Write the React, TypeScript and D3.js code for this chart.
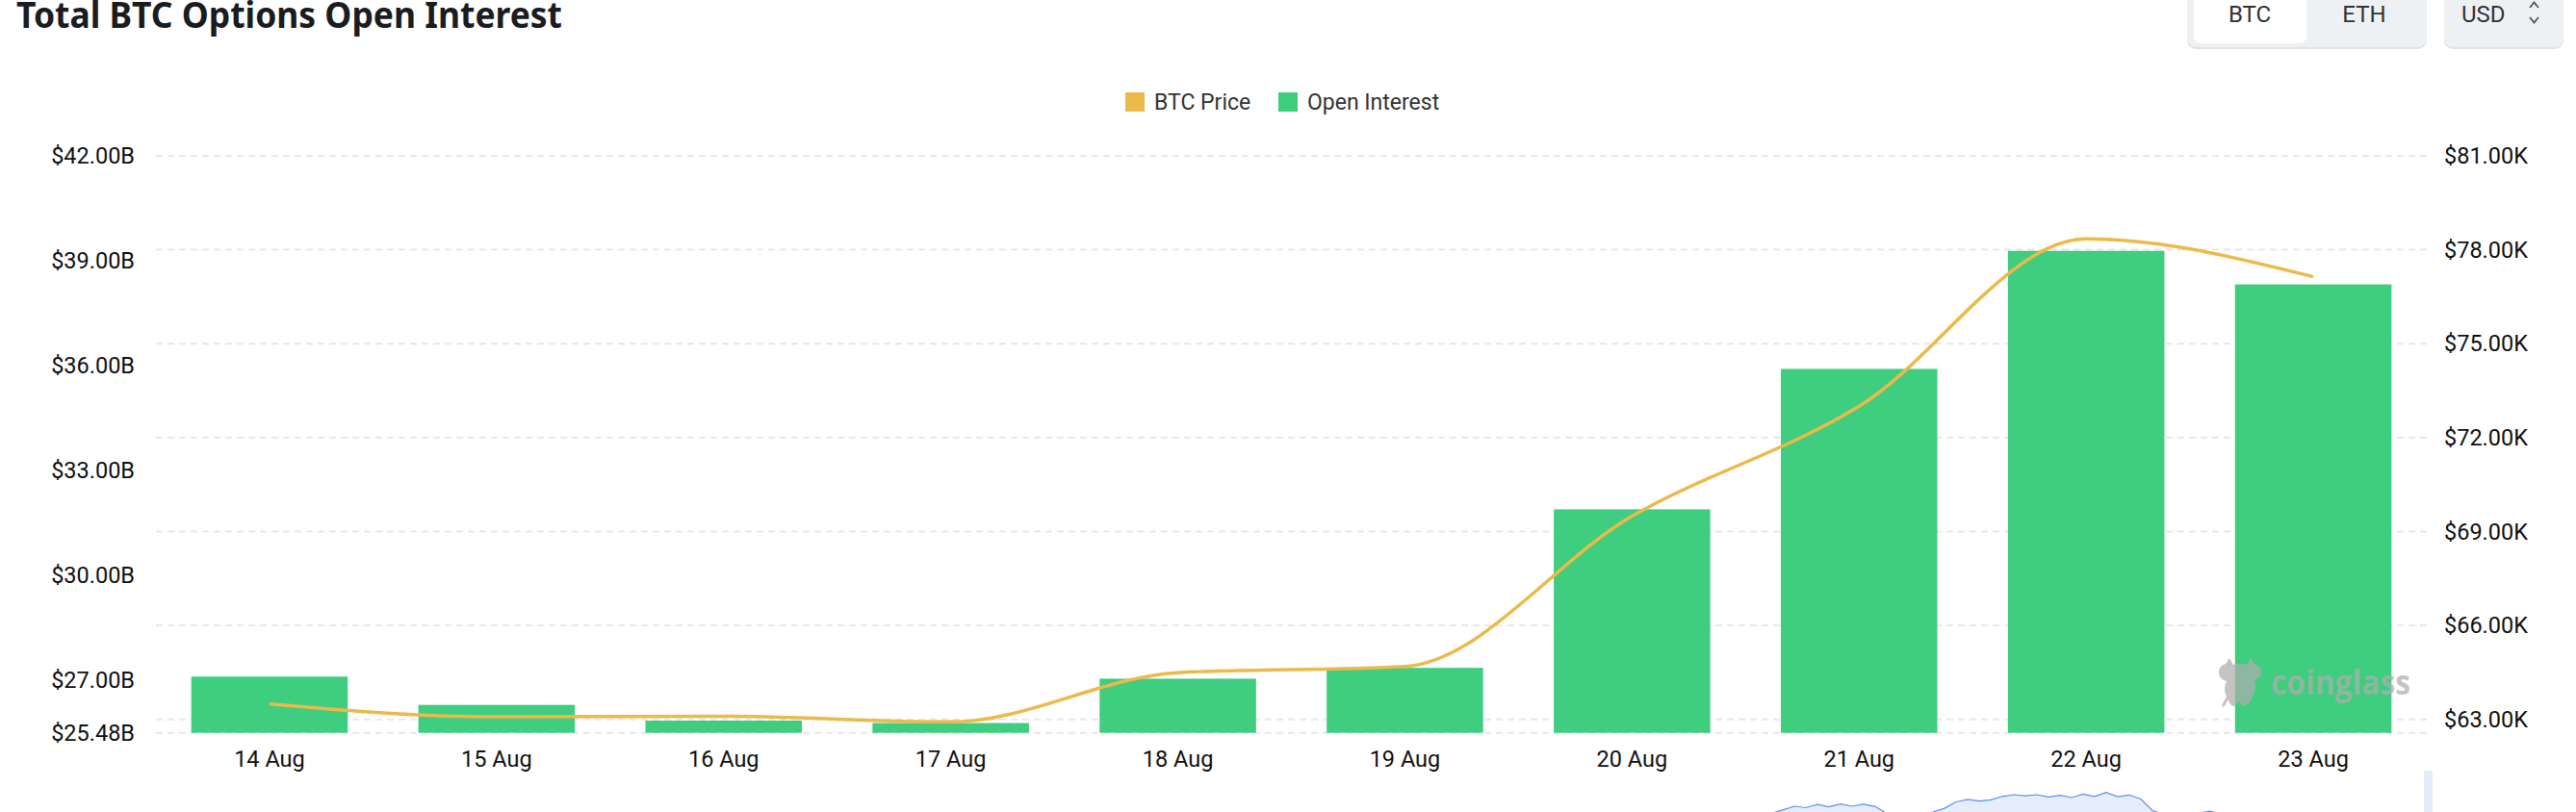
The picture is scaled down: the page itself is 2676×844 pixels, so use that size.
import React, { useEffect, useRef } from "react";
import * as d3 from "d3";

// categories + series
const dates = ["14 Aug", "15 Aug", "16 Aug", "17 Aug", "18 Aug", "19 Aug", "20 Aug", "21 Aug", "22 Aug", "23 Aug"];
const openInterest = [27.09, 26.28, 25.83, 25.76, 27.03, 27.34, 31.88, 35.9, 39.28, 38.32]; // $B
const btcPrice = [63.49, 63.08, 63.1, 62.92, 64.49, 64.69, 69.49, 73.0, 78.35, 77.14]; // $K

const leftTicks = [25.48, 27, 30, 33, 36, 39, 42];
const rightTicks = [63, 66, 69, 72, 75, 78, 81];

// overview strip under the chart (only its top is visible)
const overview = [
  1.5, 2.7, 4.0, 3.5, 4.6, 3.8, 4.8, 4.0, 4.7, 3.9, 1.5, 1.0, 1.2, 1.4, 2.0, 3.3, 5.5, 6.4, 5.8, 6.2,
  7.4, 8.0, 7.6, 8.0, 7.2, 7.8, 7.0, 8.2, 7.4, 8.8, 7.3, 7.9, 6.5, 2.5, 1.2, 1.0, 1.3, 1.6, 2.3, 1.2,
];

const W = 2676;
const H = 844;
const ORANGE = "#ecb94b";
const GREEN = "#3fcd7f";
const FONT = "Roboto, sans-serif";

const App: React.FC = () => {
  const svgRef = useRef<SVGSVGElement>(null);

  useEffect(() => {
    if (!svgRef.current) return;
    const svg = d3.select(svgRef.current);
    svg.selectAll("*").remove();

    const left = 162;
    const right = 2521;
    const top = 162;
    const bottom = 761.7;

    const x = d3
      .scaleBand<string>()
      .domain(dates)
      .range([left, right])
      .paddingInner(0.311)
      .paddingOuter(0.1555);
    const yL = d3.scaleLinear().domain([25.48, 42]).range([bottom, top]);
    const yR = d3.scaleLinear().domain([62.57, 81]).range([bottom, top]);

    // title
    svg
      .append("text")
      .attr("x", 17)
      .attr("y", 29)
      .attr("textLength", 567)
      .attr("lengthAdjust", "spacingAndGlyphs")
      .style("font-family", "'Noto Sans', sans-serif")
      .style("font-weight", 700)
      .style("font-size", "38px")
      .style("fill", "#1a1c1f")
      .text("Total BTC Options Open Interest");

    // BTC / ETH toggle
    const tg = svg.append("g");
    tg.append("rect")
      .attr("x", 2272).attr("y", -12).attr("width", 249).attr("height", 63).attr("rx", 9)
      .style("fill", "#dfe3e8");
    tg.append("rect")
      .attr("x", 2272).attr("y", -12).attr("width", 249).attr("height", 61).attr("rx", 9)
      .style("fill", "#eef1f4");
    tg.append("rect")
      .attr("x", 2279).attr("y", -12).attr("width", 117).attr("height", 57).attr("rx", 7)
      .style("fill", "#ffffff");
    tg.append("text").attr("x", 2337).attr("y", 23).attr("text-anchor", "middle")
      .style("font-family", FONT).style("font-size", "24px").style("fill", "#333")
      .text("BTC");
    tg.append("text").attr("x", 2456).attr("y", 23).attr("text-anchor", "middle")
      .style("font-family", FONT).style("font-size", "24px").style("fill", "#333")
      .text("ETH");

    // USD select
    tg.append("rect")
      .attr("x", 2539).attr("y", -12).attr("width", 124).attr("height", 63).attr("rx", 9)
      .style("fill", "#dfe3e8");
    tg.append("rect")
      .attr("x", 2539).attr("y", -12).attr("width", 124).attr("height", 61).attr("rx", 9)
      .style("fill", "#eef1f4");
    tg.append("text").attr("x", 2557).attr("y", 23)
      .style("font-family", FONT).style("font-size", "24px").style("fill", "#333")
      .text("USD");
    tg.append("path")
      .attr("d", "M2628,8 L2632.5,2.5 L2637,8 M2628,18 L2632.5,23.5 L2637,18")
      .style("fill", "none").style("stroke", "#555").style("stroke-width", 1.8);

    // legend
    const lg = svg.append("g").style("font-family", FONT).style("font-size", "23px").style("fill", "#333");
    lg.append("rect").attr("x", 1169).attr("y", 96).attr("width", 20).attr("height", 20).style("fill", ORANGE);
    lg.append("text").attr("x", 1199).attr("y", 114).text("BTC Price");
    lg.append("rect").attr("x", 1328).attr("y", 96).attr("width", 20).attr("height", 20).style("fill", GREEN);
    lg.append("text").attr("x", 1358).attr("y", 114).text("Open Interest");

    // grid (follows right axis) + bottom line
    const grid = svg.append("g");
    grid
      .selectAll("line")
      .data([...rightTicks.map((d) => yR(d)), bottom])
      .enter()
      .append("line")
      .attr("x1", left)
      .attr("x2", right)
      .attr("y1", (d) => d)
      .attr("y2", (d) => d)
      .style("stroke", "#e8e8e8")
      .style("stroke-width", 2)
      .style("stroke-dasharray", "7 5");

    // left axis labels
    svg
      .append("g")
      .selectAll("text")
      .data(leftTicks)
      .enter()
      .append("text")
      .attr("x", 140)
      .attr("y", (d) => yL(d))
      .attr("dy", "0.35em")
      .attr("text-anchor", "end")
      .style("font-family", FONT)
      .style("font-size", "23.5px")
      .style("fill", "#111")
      .text((d) => `$${d.toFixed(2)}B`);

    // right axis labels
    svg
      .append("g")
      .selectAll("text")
      .data(rightTicks)
      .enter()
      .append("text")
      .attr("x", 2539)
      .attr("y", (d) => yR(d))
      .attr("dy", "0.35em")
      .style("font-family", FONT)
      .style("font-size", "23.5px")
      .style("fill", "#111")
      .text((d) => `$${d.toFixed(2)}K`);

    // x labels
    svg
      .append("g")
      .selectAll("text")
      .data(dates)
      .enter()
      .append("text")
      .attr("x", (d) => (x(d) ?? 0) + x.bandwidth() / 2)
      .attr("y", 797)
      .attr("text-anchor", "middle")
      .style("font-family", FONT)
      .style("font-size", "23.5px")
      .style("fill", "#111")
      .text((d) => d);

    // bars
    svg
      .append("g")
      .selectAll("rect")
      .data(openInterest)
      .enter()
      .append("rect")
      .attr("x", (d, i) => x(dates[i]) ?? 0)
      .attr("width", x.bandwidth())
      .attr("y", (d) => yL(d))
      .attr("height", (d) => bottom - yL(d))
      .style("fill", GREEN);

    // watermark
    const wm = svg.append("g").style("opacity", 0.72);
    wm.append("path")
      .attr(
        "d",
        "M2312,690 L2316,684 L2320,691 Q2327,688 2334,691 L2338,684 L2342,690 Q2350,692 2349,700 Q2347,706 2342,707 Q2345,716 2340,724 Q2337,733 2330,734 L2326,729 L2321,734 Q2316,734 2315,727 L2310,735 L2308,733 L2313,724 Q2309,716 2313,708 Q2305,706 2305,699 Q2305,692 2312,690 Z"
      )
      .style("fill", "#aeaeae");
    wm.append("text")
      .attr("x", 2359)
      .attr("y", 722)
      .attr("textLength", 145)
      .attr("lengthAdjust", "spacingAndGlyphs")
      .style("font-family", "'Open Sans', sans-serif")
      .style("font-weight", 700)
      .style("font-size", "35px")
      .style("fill", "#aeaeae")
      .text("coinglass");

    // BTC price line
    const line = d3
      .line<number>()
      .x((d, i) => (x(dates[i]) ?? 0) + x.bandwidth() / 2)
      .y((d) => yR(d))
      .curve(d3.curveMonotoneX);
    svg
      .append("path")
      .attr("d", line(btcPrice))
      .style("fill", "none")
      .style("stroke", ORANGE)
      .style("stroke-width", 3.5)
      .style("stroke-linecap", "butt");

    // overview strip (bottom, mostly cut off)
    const ox = d3.scaleLinear().domain([0, overview.length - 1]).range([1840, 2308]);
    const oy = d3.scaleLinear().domain([0, 10]).range([850, 820]);
    const area = d3
      .area<number>()
      .x((d, i) => ox(i))
      .y0(H + 10)
      .y1((d) => oy(d));
    const oline = d3
      .line<number>()
      .x((d, i) => ox(i))
      .y((d) => oy(d));
    svg.append("path").attr("d", area(overview)).style("fill", "#e6edfc");
    svg
      .append("path")
      .attr("d", oline(overview))
      .style("fill", "none")
      .style("stroke", "#5b8ff9")
      .style("stroke-width", 1.2);
    svg
      .append("rect")
      .attr("x", 2518)
      .attr("y", 801)
      .attr("width", 9)
      .attr("height", 50)
      .style("fill", "#e5ebf8");
  }, []);

  return (
    <svg
      ref={svgRef}
      width={W}
      height={H}
      viewBox={`0 0 ${W} ${H}`}
      style={{ position: "absolute", left: 0, top: 0, background: "#fff" }}
    />
  );
};

export default App;
